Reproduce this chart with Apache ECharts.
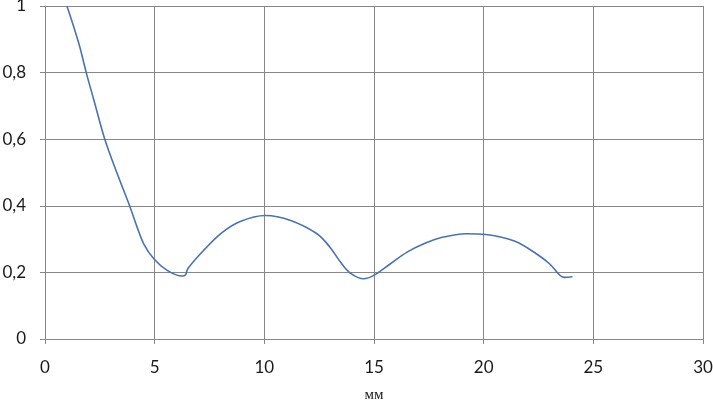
<!DOCTYPE html>
<html><head><meta charset="utf-8">
<script src="https://cdn.jsdelivr.net/npm/echarts@6/dist/echarts.min.js"></script>
<style>html,body{margin:0;padding:0;background:#fff}#c{width:713px;height:403px}</style>
</head><body><div id="c"></div>
<script>
const xValues = [1.0, 1.54, 1.88, 2.23, 2.73, 3.29, 3.87, 4.2, 4.5, 4.96, 5.57, 6.25, 6.4, 6.51, 7.09, 8.0, 8.9, 10.05, 11.2, 12.4, 13.0, 13.47, 13.92, 14.53, 14.99, 15.75, 16.51, 17.27, 18.03, 19.2, 20.1, 21.4, 22.4, 23.0, 23.5, 23.7, 24.05];
const yValues = [1.0, 0.888, 0.80, 0.717, 0.599, 0.497, 0.398, 0.336, 0.286, 0.241, 0.206, 0.189, 0.192, 0.211, 0.256, 0.316, 0.353, 0.371, 0.356, 0.316, 0.275, 0.231, 0.198, 0.181, 0.191, 0.226, 0.261, 0.286, 0.304, 0.316, 0.314, 0.294, 0.256, 0.226, 0.19, 0.185, 0.187];
const xTicks = [0, 5, 10, 15, 20, 25, 30];
const yTicks = [0, 0.2, 0.4, 0.6, 0.8, 1];
const xName = 'мм';

const data = xValues.map((x, i) => [x, yValues[i]]);
const gridColor = '#878787';
const chart = echarts.init(document.getElementById('c'), null, {renderer: 'canvas'});
chart.setOption({
  animation: false,
  grid: {left: 45, right: 10, top: 6, bottom: 64, outerBoundsMode: 'none', containLabel: false},
  xAxis: {
    type: 'value', min: xTicks[0], max: xTicks[xTicks.length - 1], interval: 5,
    name: xName, nameLocation: 'middle', nameGap: 49,
    nameTextStyle: {fontFamily: 'Liberation Serif', fontSize: 15, color: '#222'},
    axisLine: {show: true, lineStyle: {color: gridColor, width: 1}},
    axisTick: {show: true, length: 5, lineStyle: {color: gridColor}},
    axisLabel: {margin: 20, fontFamily: 'Lato', fontSize: 17, color: '#1a1a1a'},
    splitLine: {show: true, lineStyle: {color: gridColor, width: 1}}
  },
  yAxis: {
    type: 'value', min: yTicks[0], max: yTicks[yTicks.length - 1], interval: 0.2,
    axisLine: {show: true, lineStyle: {color: gridColor, width: 1}},
    axisTick: {show: true, length: 5, lineStyle: {color: gridColor}},
    axisLabel: {margin: 19, fontFamily: 'Lato', fontSize: 17, color: '#1a1a1a',
      formatter: v => String(Math.round(v * 10) / 10).replace('.', ',')},
    splitLine: {show: true, lineStyle: {color: gridColor, width: 1}}
  },
  series: [{
    type: 'line', data: data, smooth: 0.35, showSymbol: false,
    lineStyle: {color: '#4a72b0', width: 1.6}
  }]
});
</script></body></html>
